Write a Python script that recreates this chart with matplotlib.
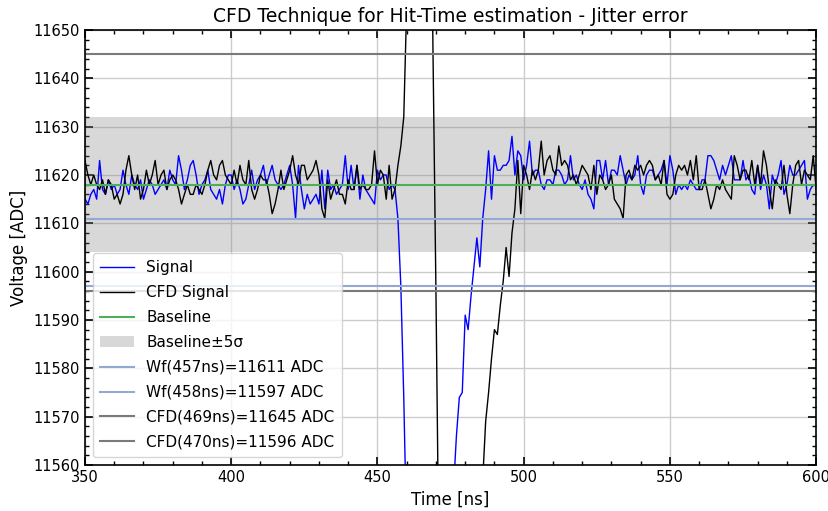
import numpy as np
import matplotlib
matplotlib.use("Agg")
import matplotlib.pyplot as plt
from matplotlib.ticker import AutoMinorLocator

# Sample times [ns], 1 ns per sample
t_start, t_stop = 350, 600

signal = [
    11615, 11614, 11616, 11617, 11615, 11623, 11617, 11616, 11619, 11617,  # 350
    11618, 11616, 11617, 11621, 11618, 11616, 11620, 11618, 11617, 11619,  # 360
    11615, 11617, 11619, 11618, 11616, 11617, 11618, 11619, 11617, 11621,  # 370
    11619, 11618, 11624, 11621, 11617, 11619, 11622, 11623, 11620, 11616,  # 380
    11618, 11619, 11621, 11617, 11616, 11615, 11617, 11614, 11618, 11620,  # 390
    11620, 11617, 11619, 11617, 11614, 11615, 11618, 11621, 11617, 11619,  # 400
    11620, 11622, 11618, 11620, 11622, 11619, 11618, 11617, 11618, 11620,  # 410
    11622, 11618, 11611, 11622, 11617, 11613, 11616, 11614, 11615, 11616,  # 420
    11614, 11621, 11613, 11621, 11617, 11618, 11616, 11617, 11618, 11624,  # 430
    11617, 11622, 11617, 11622, 11615, 11620, 11617, 11616, 11615, 11614,  # 440
    11621, 11619, 11620, 11620, 11617, 11618, 11617, 11611, 11597, 11574,  # 450
    11545, 11500, 11450, 11400, 11370, 11360, 11365, 11380, 11410, 11440,  # 460
    11470, 11495, 11515, 11530, 11540, 11547, 11555, 11566, 11574, 11575,  # 470
    11591, 11588, 11595, 11601, 11607, 11601, 11611, 11617, 11625, 11615,  # 480
    11624, 11621, 11621, 11622, 11622, 11623, 11628, 11620, 11625, 11624,  # 490
    11619, 11622, 11627, 11620, 11621, 11621, 11618, 11617, 11619, 11619,  # 500
    11618, 11621, 11621, 11620, 11618, 11619, 11624, 11619, 11620, 11618,  # 510
    11617, 11619, 11616, 11615, 11613, 11623, 11623, 11619, 11623, 11618,  # 520
    11621, 11621, 11620, 11624, 11621, 11618, 11620, 11619, 11620, 11624,  # 530
    11618, 11616, 11620, 11621, 11621, 11619, 11620, 11621, 11623, 11618,  # 540
    11624, 11621, 11616, 11618, 11617, 11618, 11617, 11619, 11618, 11617,  # 550
    11617, 11619, 11619, 11624, 11624, 11623, 11621, 11619, 11622, 11620,  # 560
    11622, 11624, 11619, 11619, 11619, 11623, 11619, 11620, 11617, 11616,  # 570
    11622, 11617, 11620, 11618, 11613, 11620, 11618, 11620, 11623, 11616,  # 580
    11618, 11622, 11620, 11620, 11621, 11622, 11623, 11615, 11617, 11618,  # 590
    11618,                                                                 # 600
]

cfd_signal = [
    11623, 11620, 11618, 11620, 11618, 11617, 11619, 11616, 11619, 11618,  # 350
    11615, 11616, 11614, 11616, 11621, 11624, 11620, 11617, 11620, 11615,  # 360
    11617, 11621, 11618, 11620, 11623, 11618, 11620, 11621, 11617, 11619,  # 370
    11620, 11619, 11617, 11614, 11616, 11618, 11616, 11616, 11618, 11617,  # 380
    11616, 11618, 11621, 11623, 11620, 11619, 11622, 11623, 11620, 11619,  # 390
    11618, 11621, 11618, 11622, 11619, 11618, 11623, 11617, 11615, 11617,  # 400
    11620, 11619, 11619, 11616, 11612, 11614, 11617, 11621, 11617, 11619,  # 410
    11621, 11624, 11620, 11618, 11622, 11622, 11619, 11620, 11621, 11623,  # 420
    11620, 11613, 11611, 11619, 11615, 11617, 11619, 11616, 11616, 11614,  # 430
    11619, 11617, 11617, 11622, 11617, 11618, 11617, 11617, 11618, 11625,  # 440
    11618, 11621, 11620, 11615, 11622, 11615, 11617, 11622, 11626, 11632,  # 450
    11655, 11720, 11790, 11830, 11840, 11820, 11790, 11750, 11700, 11645,  # 460
    11596, 11540, 11490, 11450, 11420, 11405, 11400, 11410, 11430, 11455,  # 470
    11480, 11500, 11515, 11528, 11538, 11546, 11557, 11569, 11575, 11582,  # 480
    11588, 11587, 11593, 11598, 11605, 11599, 11608, 11613, 11623, 11612,  # 490
    11622, 11620, 11617, 11621, 11619, 11621, 11627, 11620, 11623, 11624,  # 500
    11621, 11620, 11626, 11622, 11623, 11622, 11619, 11620, 11618, 11620,  # 510
    11622, 11621, 11620, 11617, 11622, 11616, 11620, 11619, 11617, 11618,  # 520
    11620, 11615, 11614, 11613, 11611, 11620, 11621, 11619, 11622, 11621,  # 530
    11622, 11620, 11622, 11623, 11622, 11619, 11620, 11618, 11623, 11616,  # 540
    11615, 11616, 11620, 11622, 11621, 11622, 11620, 11623, 11619, 11624,  # 550
    11617, 11617, 11619, 11616, 11613, 11615, 11618, 11617, 11619, 11617,  # 560
    11616, 11615, 11624, 11622, 11619, 11621, 11621, 11619, 11623, 11618,  # 570
    11622, 11618, 11625, 11622, 11617, 11613, 11619, 11618, 11617, 11622,  # 580
    11616, 11612, 11618, 11622, 11623, 11618, 11621, 11620, 11619, 11624,  # 590
    11617,                                                                 # 600
]

baseline = 11618
sigma = 2.8
n_sigma = 5

wf_times = [457, 458]
wf_values = [11611, 11597]
cfd_times = [469, 470]
cfd_values = [11645, 11596]

time = np.arange(t_start, t_stop + 1)

fig = plt.figure(figsize=(8.29, 5.11), dpi=100)
ax = fig.add_axes([0.1025, 0.09, 0.882, 0.8513])

ax.grid(True, which="major", color="#cccccc", linewidth=1.0)
ax.set_axisbelow(True)

h_sig, = ax.plot(time, signal, color="#0000ff", linewidth=1.0, label="Signal")
h_cfd, = ax.plot(time, cfd_signal, color="black", linewidth=1.0, label="CFD Signal")
h_base = ax.axhline(baseline, color="#4daf5a", linewidth=1.5, label="Baseline")
h_band = ax.axhspan(baseline - n_sigma * sigma, baseline + n_sigma * sigma,
                    color="gray", alpha=0.3, linewidth=0,
                    label=f"Baseline\u00b1{n_sigma}\u03c3")

handles = [h_sig, h_cfd, h_base, h_band]
for t, v in zip(wf_times, wf_values):
    h = ax.axhline(v, color="#93a8d2", linewidth=1.5, label=f"Wf({t}ns)={v} ADC")
    handles.append(h)
for t, v in zip(cfd_times, cfd_values):
    h = ax.axhline(v, color="#7a7a7a", linewidth=1.5, label=f"CFD({t}ns)={v} ADC")
    handles.append(h)

ax.set_xlim(t_start, t_stop)
ax.set_ylim(11560, 11650)
ax.xaxis.set_minor_locator(AutoMinorLocator(5))
ax.yaxis.set_minor_locator(AutoMinorLocator(5))
ax.tick_params(which="both", direction="in", top=True, right=True, labelsize=10.5)
ax.tick_params(which="major", length=6, width=1.2)
ax.tick_params(which="minor", length=3, width=1.0)
for sp in ax.spines.values():
    sp.set_color("black")
    sp.set_linewidth(1.2)

ax.set_title("CFD Technique for Hit-Time estimation - Jitter error", fontsize=13.5)
ax.set_xlabel("Time [ns]", fontsize=12)
ax.set_ylabel("Voltage [ADC]", fontsize=12)

ax.legend(handles=handles, loc="lower left", fontsize=11, framealpha=0.8,
          handlelength=2.2, borderpad=0.5, labelspacing=0.65)

fig.savefig("out.png", dpi=100)
